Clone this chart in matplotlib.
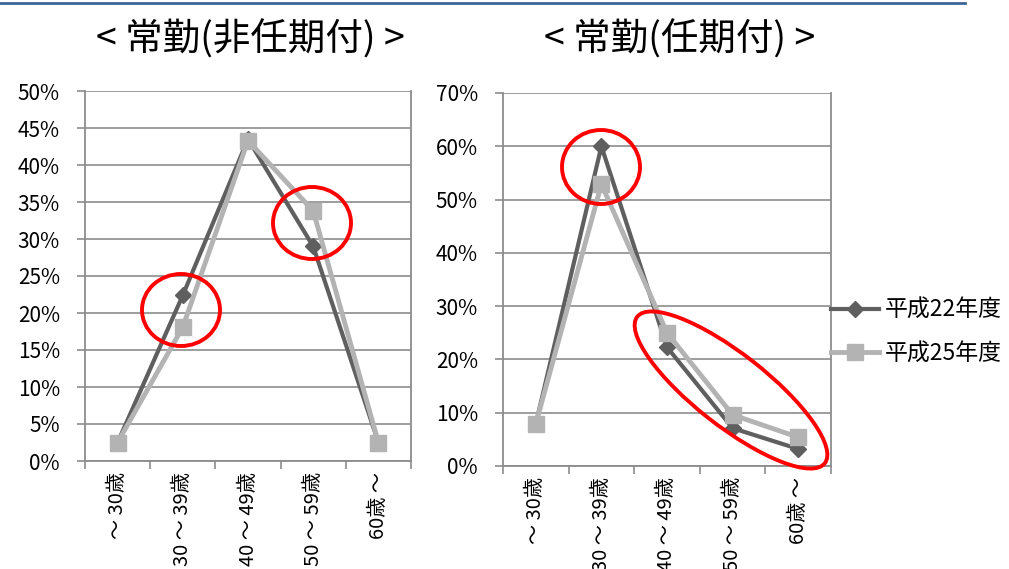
import matplotlib
matplotlib.use("Agg")
import matplotlib.pyplot as plt
from matplotlib.patches import Ellipse
from matplotlib.lines import Line2D
from matplotlib.ticker import PercentFormatter

plt.rcParams['font.family'] = ['Noto Sans CJK JP', 'DejaVu Sans']

ages = ['～ 30歳', '30 ～ 39歳', '40 ～ 49歳', '50 ～ 59歳', '60歳 ～']
series = ['平成22年度', '平成25年度']

# 常勤(非任期付)
h22_non = [2.5, 22.4, 43.5, 29.0, 2.5]
h25_non = [2.5, 18.1, 43.3, 33.8, 2.5]
# 常勤(任期付)
h22_fix = [7.9, 60.0, 22.3, 7.1, 3.2]
h25_fix = [7.9, 52.9, 25.0, 9.6, 5.4]

dark = '#5f5f5f'
light = '#b3b3b3'
grid = '#8c8c8c'

fig = plt.figure(figsize=(10.09, 5.69), dpi=100)


def draw(ax, a, b, ymax):
    x = range(len(ages))
    ax.plot(x, a, color=dark, lw=3, marker='D', ms=8, zorder=3)
    ax.plot(x, b, color=light, lw=3.5, marker='s', ms=11, zorder=4)
    ax.set_xlim(-0.5, len(ages) - 0.5)
    ax.set_ylim(0, ymax)
    ax.set_yticks(range(0, ymax + 1, 5 if ymax == 50 else 10))
    ax.yaxis.set_major_formatter(PercentFormatter(decimals=0))
    ax.set_xticks(list(x))
    ax.set_xticklabels(ages, rotation=90, va='top', ha='center', fontsize=14.5)
    ax.set_xticks([i - 0.5 for i in range(len(ages) + 1)], minor=True)
    ax.tick_params(axis='x', which='major', length=0, pad=8)
    ax.tick_params(axis='x', which='minor', length=6, color=grid, width=1.2)
    ax.tick_params(axis='y', length=6, color=grid, width=1.2, labelsize=15, pad=12)
    ax.grid(axis='y', color=grid, lw=1.2, zorder=1)
    for s in ['left', 'bottom', 'right']:
        ax.spines[s].set_color(grid)
        ax.spines[s].set_linewidth(1.3)
    ax.spines['top'].set_visible(False)


ax1 = fig.add_axes([85 / 1009, 108 / 569, 326 / 1009, 370 / 569])
draw(ax1, h22_non, h25_non, 50)
ax2 = fig.add_axes([503 / 1009, 103 / 569, 328 / 1009, 373 / 569])
draw(ax2, h22_fix, h25_fix, 70)

handles = [Line2D([], [], color=dark, lw=3, marker='D', ms=8),
           Line2D([], [], color=light, lw=3.5, marker='s', ms=11)]
fig.legend(handles, series, loc='center left', bbox_to_anchor=(831 / 1009, 1 - 332 / 569),
           frameon=False, fontsize=16.5, handlelength=2.1, handletextpad=0.25,
           labelspacing=0.9, borderaxespad=0, borderpad=0)

# overlay for titles, header line and red circles (pixel coords)
ov = fig.add_axes([0, 0, 1, 1], zorder=10)
ov.set_xlim(0, 1009)
ov.set_ylim(569, 0)
ov.axis('off')
ov.plot([0, 965], [3, 3], color='#3d6596', lw=2)
ov.text(250, 40, '< 常勤(非任期付) >', fontsize=27, ha='center', va='center')
ov.text(680, 40, '< 常勤(任期付) >', fontsize=27, ha='center', va='center')
for cx, cy, w, h, ang in [(181, 310, 78, 72, 0), (312, 223, 78, 72, 0),
                          (601, 167, 78, 74, 0), (731, 390, 238, 72, 38)]:
    ov.add_patch(Ellipse((cx, cy), w, h, angle=ang, fill=False, ec='#ff0000', lw=2.8))

fig.savefig('out.png', dpi=100)
